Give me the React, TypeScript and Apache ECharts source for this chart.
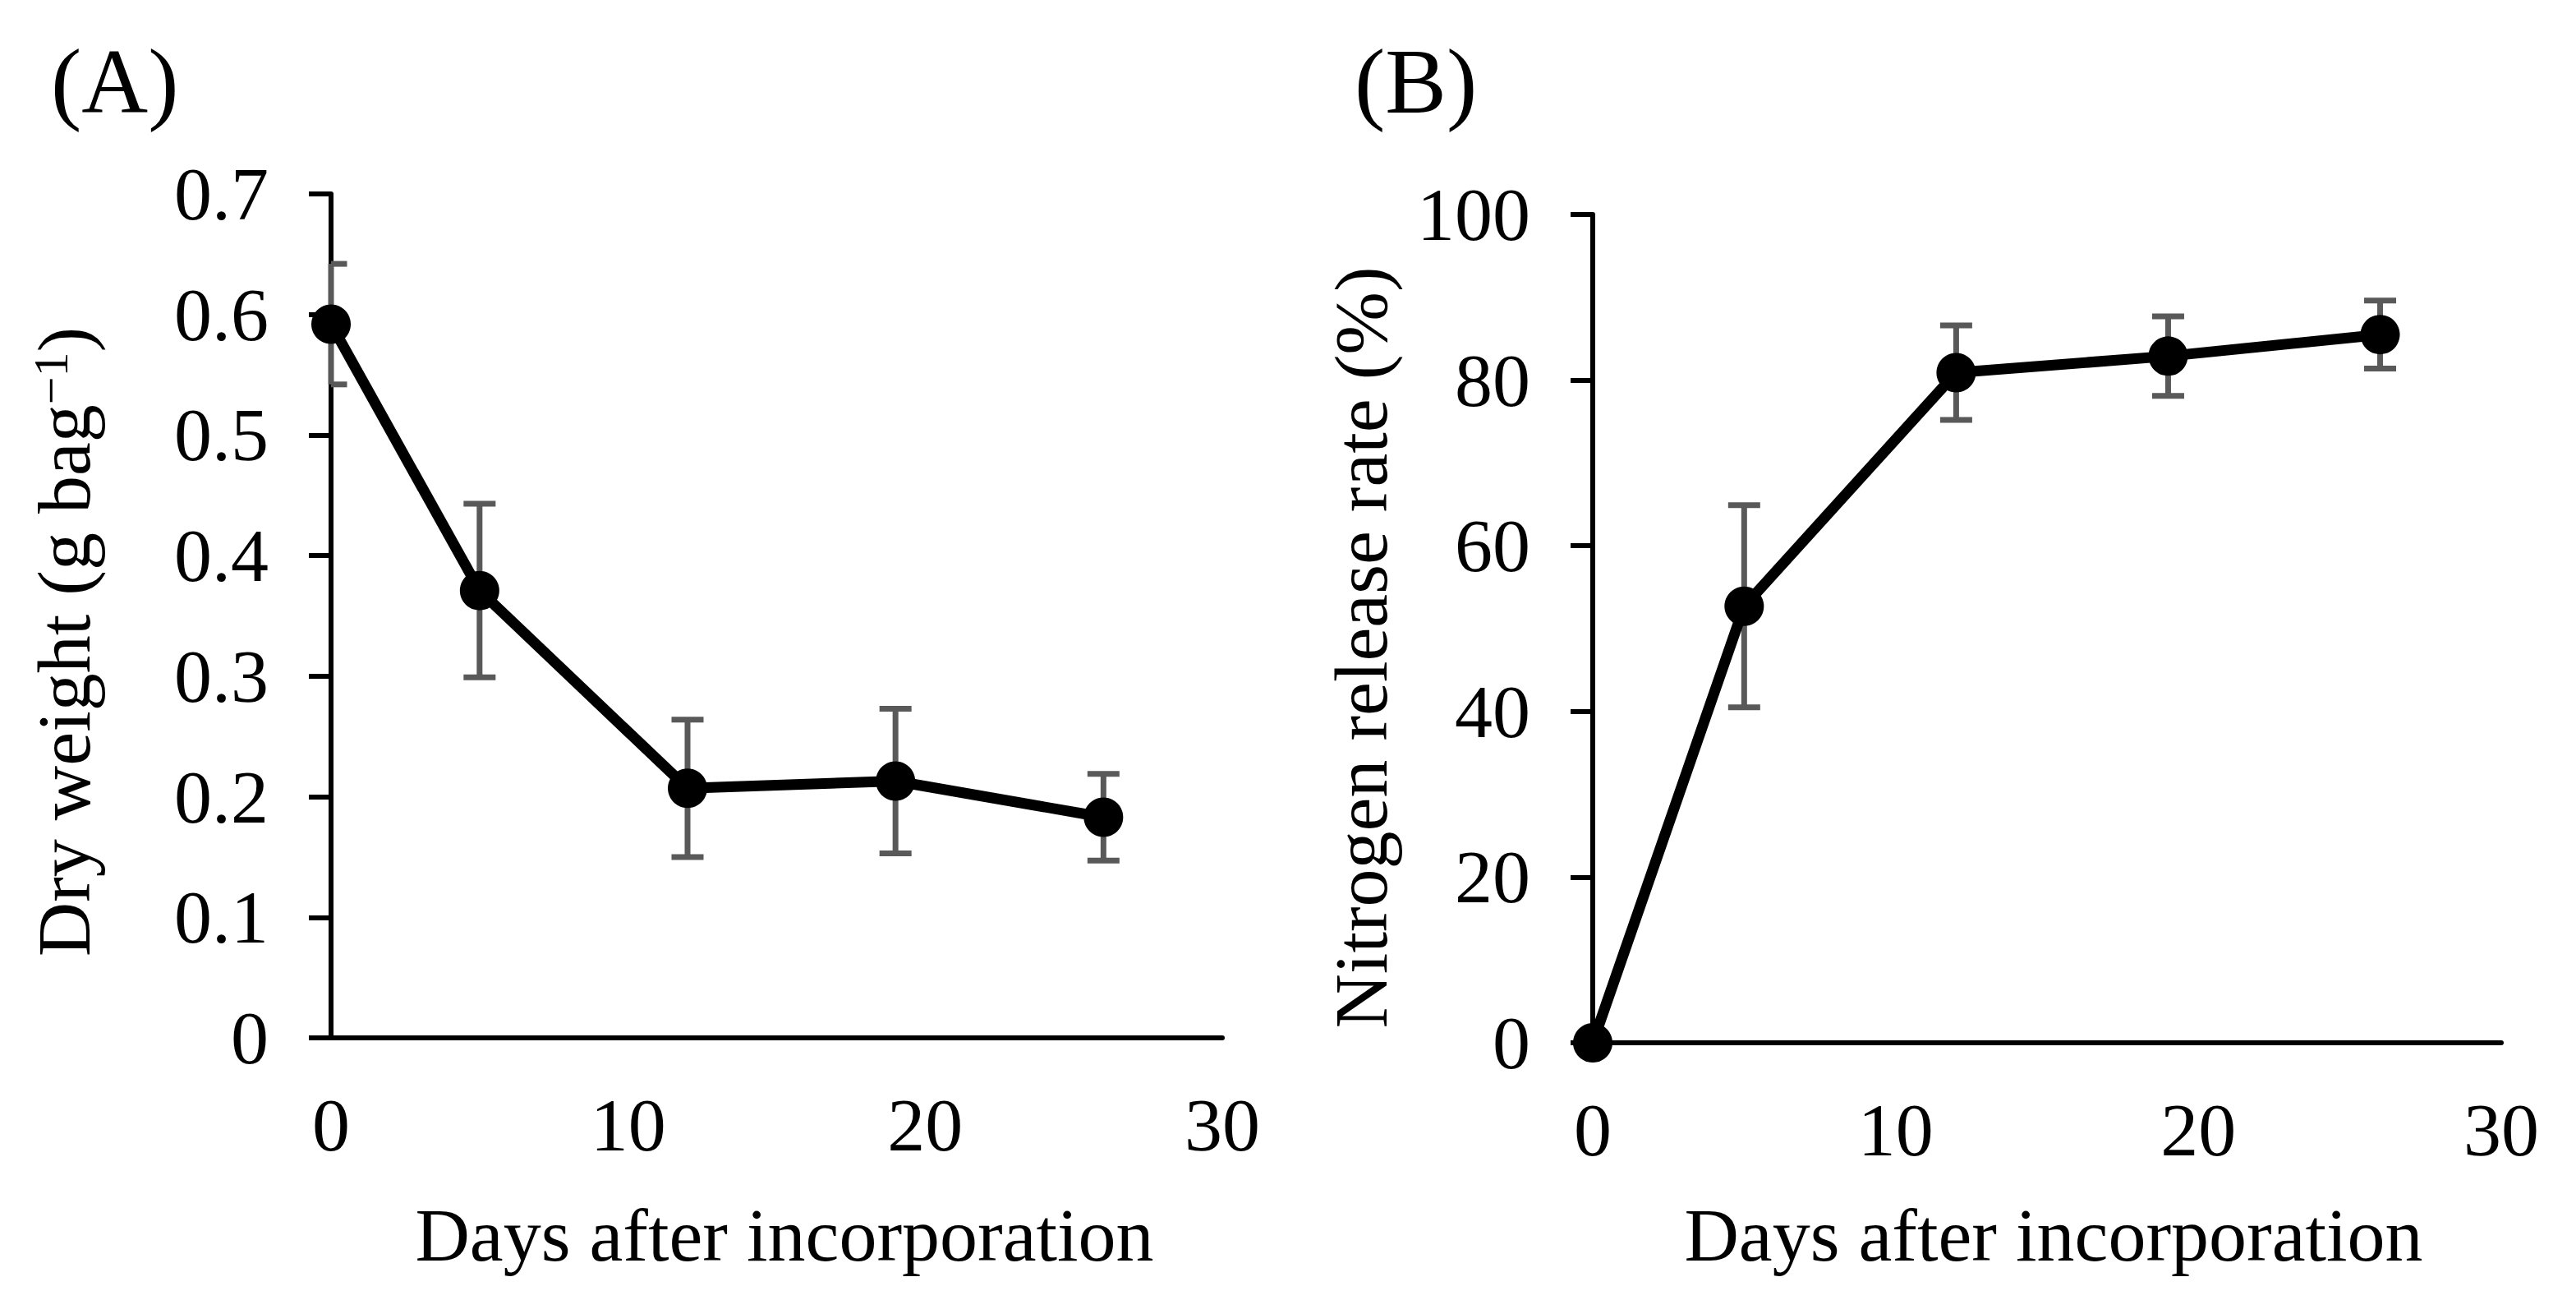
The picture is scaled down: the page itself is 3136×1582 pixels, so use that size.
import { useEffect, useRef } from 'react'
import * as echarts from 'echarts'

// sampling days (shared by both panels)
const days = [0, 5, 12, 19, 26]

// (A) dry weight, g bag-1, with error bars
const dryWeight = [0.592, 0.371, 0.207, 0.213, 0.183]
const dryWeightErr = [0.05, 0.072, 0.057, 0.06, 0.036]

// (B) nitrogen release rate, %
const nRelease = [0, 52.7, 80.9, 82.9, 85.5]
const nReleaseErr = [0, 12.2, 5.7, 4.8, 4.1]

const xTicks = [0, 10, 20, 30]
const panelLabels = ['(A)', '(B)']
const xTitle = 'Days after incorporation'

const FONT = '"Liberation Serif", "Times New Roman", serif'
const BAR_COLOR = '#595959'

// error bar renderer, caps clipped to the plot area like Excel does
const errorBarItem = (params: any, api: any) => {
  const x = api.value(0)
  const y = api.value(1)
  const e = api.value(2)
  const top = api.coord([x, y + e])
  const bot = api.coord([x, y - e])
  const cs = params.coordSys
  const half = 19.5
  const l = Math.max(top[0] - half, cs.x)
  const r = Math.min(top[0] + half, cs.x + cs.width)
  const style = { stroke: BAR_COLOR, lineWidth: 7, fill: null }
  return {
    type: 'group',
    children: [
      { type: 'line', shape: { x1: top[0], y1: top[1], x2: bot[0], y2: bot[1] }, style },
      { type: 'line', shape: { x1: l, y1: top[1], x2: r, y2: top[1] }, style },
      { type: 'line', shape: { x1: l, y1: bot[1], x2: r, y2: bot[1] }, style },
    ],
  }
}

const axisText = { color: '#000', fontFamily: FONT, fontSize: 92 }

function xAxisOf(gridIndex: number) {
  return {
    type: 'value' as const,
    gridIndex,
    min: 0,
    max: 30,
    interval: 10,
    axisLine: { onZero: false, lineStyle: { color: '#000', width: 6 } },
    axisTick: { show: false },
    splitLine: { show: false },
    axisLabel: {
      ...axisText,
      margin: 106,
      verticalAlign: 'middle' as const,
      formatter: (v: number) => (xTicks.includes(v) ? String(v) : ''),
    },
  }
}

function yAxisOf(gridIndex: number, max: number, interval: number, fmt: (v: number) => string) {
  return {
    type: 'value' as const,
    gridIndex,
    min: 0,
    max,
    interval,
    axisLine: { show: true, lineStyle: { color: '#000', width: 6 } },
    axisTick: { show: true, inside: false, length: 27, lineStyle: { color: '#000', width: 6 } },
    splitLine: { show: false },
    axisLabel: { ...axisText, margin: 76, formatter: fmt },
  }
}

export default function App() {
  const ref = useRef<HTMLDivElement>(null)

  useEffect(() => {
    document.body.style.margin = '0'
    if (!ref.current) return
    const chart = echarts.init(ref.current, null, { renderer: 'svg' })

    const lineStyle = { color: '#000', width: 13 }
    const titleStyle = { fill: '#000', font: `92px ${FONT}`, align: 'center', verticalAlign: 'middle' }

    const option: echarts.EChartsOption = {
      animation: false,
      backgroundColor: '#fff',
      grid: [
        { left: 403, top: 236, width: 1085, height: 1027 },
        { left: 1939, top: 261, width: 1106, height: 1008 },
      ],
      xAxis: [xAxisOf(0), xAxisOf(1)],
      yAxis: [
        yAxisOf(0, 0.7, 0.1, (v) => (v === 0 ? '0' : v.toFixed(1))),
        yAxisOf(1, 100, 20, (v) => String(v)),
      ],
      graphic: [
        {
          type: 'text', x: 62, y: 99,
          style: { text: panelLabels[0], fill: '#000', font: `112px ${FONT}`, align: 'left', verticalAlign: 'middle' },
        },
        {
          type: 'text', x: 1649, y: 99,
          style: { text: panelLabels[1], fill: '#000', font: `112px ${FONT}`, align: 'left', verticalAlign: 'middle' },
        },
        { type: 'text', x: 955, y: 1503, style: { text: xTitle, ...titleStyle } as any },
        { type: 'text', x: 2500, y: 1503, style: { text: xTitle, ...titleStyle } as any },
        {
          type: 'text', x: 78, y: 781, rotation: Math.PI / 2,
          style: {
            text: '{a|Dry weight (g bag}{s|−1}{a|)}',
            align: 'center',
            verticalAlign: 'middle',
            rich: {
              a: { fontFamily: FONT, fontSize: 92, lineHeight: 92, fill: '#000', verticalAlign: 'bottom' },
              s: { fontFamily: FONT, fontSize: 60, lineHeight: 60, fill: '#000', verticalAlign: 'top' },
            },
          } as any,
        },
        {
          type: 'text', x: 1657, y: 788, rotation: Math.PI / 2,
          style: { text: 'Nitrogen release rate (%)', ...titleStyle } as any,
        },
      ],
      series: [
        {
          type: 'custom',
          xAxisIndex: 0,
          yAxisIndex: 0,
          z: 2,
          renderItem: errorBarItem as any,
          data: days.map((d, i) => [d, dryWeight[i], dryWeightErr[i]]).filter((r) => r[2] > 0),
        },
        {
          type: 'line',
          xAxisIndex: 0,
          yAxisIndex: 0,
          z: 3,
          clip: false,
          data: days.map((d, i) => [d, dryWeight[i]]),
          symbol: 'circle',
          symbolSize: 48,
          itemStyle: { color: '#000' },
          lineStyle,
        },
        {
          type: 'custom',
          xAxisIndex: 1,
          yAxisIndex: 1,
          z: 2,
          renderItem: errorBarItem as any,
          data: days.map((d, i) => [d, nRelease[i], nReleaseErr[i]]).filter((r) => r[2] > 0),
        },
        {
          type: 'line',
          xAxisIndex: 1,
          yAxisIndex: 1,
          z: 3,
          clip: false,
          data: days.map((d, i) => [d, nRelease[i]]),
          symbol: 'circle',
          symbolSize: 48,
          itemStyle: { color: '#000' },
          lineStyle,
        },
      ],
    }

    chart.setOption(option)
    return () => chart.dispose()
  }, [])

  return <div ref={ref} style={{ width: 3136, height: 1582 }} />
}
